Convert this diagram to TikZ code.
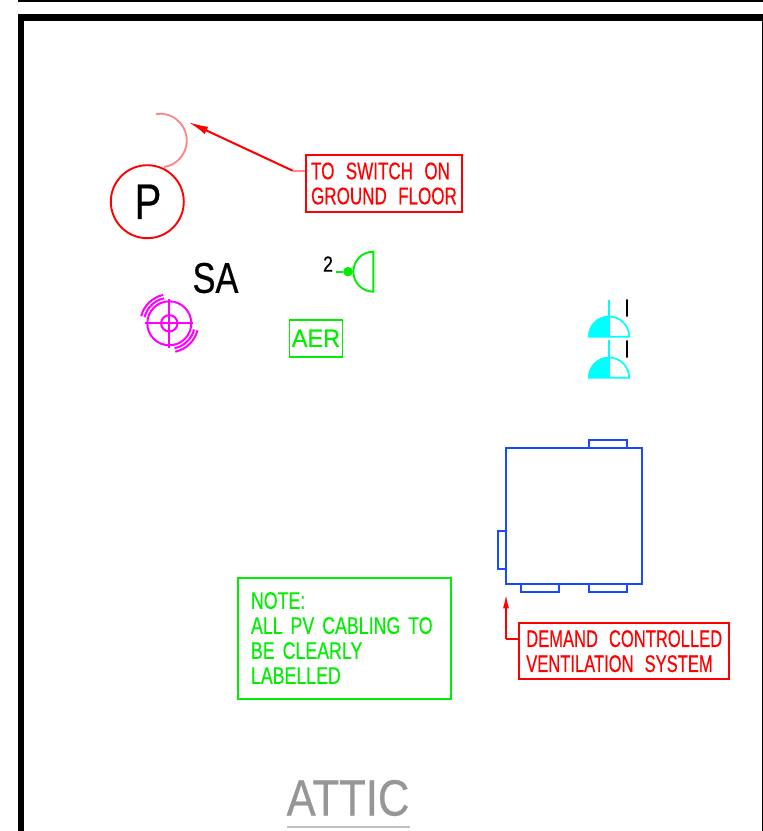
\documentclass[tikz,border=0pt]{standalone}
\usepackage{fontspec}
\setmainfont{Liberation Sans}
\newfontfamily\cad[FakeStretch=0.71,WordSpace=2.4,FakeBold=0.4]{Liberation Sans}
\newfontfamily\cadvent[FakeStretch=0.69,WordSpace=2.4,FakeBold=0.4]{Liberation Sans}
\newfontfamily\cadnote[FakeStretch=0.74,WordSpace=2.6,FakeBold=0.4]{Liberation Sans}
\newfontfamily\cadsym[FakeStretch=0.8,FakeBold=0.5]{Liberation Sans}
\newfontfamily\cadaer[FakeStretch=0.94,FakeBold=0.4]{Liberation Sans}
\newfontfamily\cadtitle[FakeStretch=0.855,FakeBold=0.5]{Liberation Sans}
\newcommand{\cadsize}[1]{\cad\fontsize{#1}{25}\selectfont}
\newcommand{\symsize}[1]{\cadsym\fontsize{#1}{25}\selectfont}
\definecolor{cadred}{RGB}{255,0,0}
\definecolor{palered}{RGB}{255,135,135}
\definecolor{cadgreen}{RGB}{0,238,0}
\definecolor{cadblue}{RGB}{25,75,250}
\definecolor{cadmag}{RGB}{255,0,255}
\definecolor{cadcyan}{RGB}{0,255,255}
\definecolor{attic}{RGB}{150,150,150}
\usetikzlibrary{arrows.meta}
\tikzset{
  noteline/.style={font=\cadsize{24}, align=left, inner sep=0pt, draw, line width=2pt},
  redlabel/.style={noteline, draw=cadred, text=cadred},
  redlead/.style={draw=cadred, line width=2pt, -{Latex[length=20pt,width=8pt]}},
  plain/.style={inner sep=0pt, text=black},
  duct/.style={draw=cadblue, line width=1.7pt},
  mag/.style={draw=cadmag, line width=2pt},
  lamp/.style={draw=cadcyan, line width=1.7pt},
  greenline/.style={draw=cadgreen, line width=1.9pt},
}
\begin{document}
\begin{tikzpicture}[x=1pt,y=-1pt]
\useasboundingbox (0,0) rectangle (763,831);
% frame
\fill[black] (18,0) rectangle (763,2);
\fill[black] (18,14) rectangle (763,21);
\fill[black] (18,14) rectangle (24,831);
\fill[black] (761.5,21) rectangle (763,831);
% pull switch
\node[circle, draw=cadred, line width=1.9pt, minimum size=73pt, inner sep=0pt] (p) at (147.3,201.7) {};
\node[plain, font=\symsize{50}] (ptext) at (148,201.7) {P};
\draw[palered, line width=1.9pt] (156,114) arc[start angle=98.6, end angle=-81.4, radius=26.8pt];
\node[redlabel, minimum width=156pt, minimum height=57pt] (sw) at (384,183.5) {TO SWITCH ON\\GROUND FLOOR};
\coordinate (swtip) at (188.3,122);
\coordinate (swbend) at (292.7,170.7);
\draw[redlead] (swbend) -- (swtip);
\draw[palered, line width=2pt] (sw.west |- swbend) -- (swbend);
% SA
\node[plain, font=\symsize{43}] (sa) at (215.5,278) {SA};
% green lamp
\node[plain, font=\symsize{22}] (two) at (328,264) {2};
\node[circle, fill=cadgreen, inner sep=0pt, minimum size=9.5pt] (gdot) at (348,271.7) {};
\coordinate (glead) at (336,271.7);
\draw[greenline] (glead) -- (gdot);
\draw[greenline] (373.3,251.7) arc[start angle=90, end angle=270, radius=20pt] -- cycle;
% magenta detector
\coordinate (det) at (169.3,323.3);
\draw[mag] (det) circle[radius=22pt];
\draw[mag] (det) circle[radius=8.2pt];
\draw[mag] ([xshift=-24pt]det) -- ([xshift=24pt]det);
\draw[mag] ([yshift=-24.5pt]det) -- ([yshift=24.5pt]det);
\foreach \r in {25.5,29}{
  \draw[mag] (det) ++(102:\r pt) arc[start angle=102, end angle=166, radius=\r pt];
  \draw[mag] (det) ++(282:\r pt) arc[start angle=282, end angle=346, radius=\r pt];
}
% AER
\node[draw=cadgreen, line width=1.9pt, text=cadgreen, inner sep=0pt, minimum width=53pt, minimum height=36.5pt, font={\cadaer\fontsize{25}{25}\selectfont}] (aer) at (316,338.3) {AER};
% cyan lamps
\foreach \b/\t [count=\i] in {336.7/300, 377.7/340}{
  \fill[cadcyan] (609,\b) -- (588.8,\b) arc[start angle=180, end angle=90, radius=20.2pt] -- cycle;
  \draw[lamp] (588.8,\b) arc[start angle=180, end angle=0, radius=20.2pt] -- cycle;
  \draw[lamp] (609,\t) -- (609,\b);
}
\node[plain, font=\symsize{24}] (i1) at (627,308) {I};
\node[plain, font=\symsize{24}] (i2) at (627,349) {I};
% ventilation unit
\draw[duct] (589,447.7) |- (626.7,440.3) -- (626.7,447.7);
\draw[duct] (521,584) |- (559,591.7) -- (559,584);
\draw[duct] (589,584) |- (626.7,591.7) -- (626.7,584);
\draw[duct] (505.7,531) -| (498.3,568.7) -- (505.7,568.7);
\node[draw=cadblue, line width=2.1pt, minimum width=136.3pt, minimum height=136.3pt, inner sep=0pt] (unit) at (573.85,515.85) {};
\node[redlabel, minimum width=209.7pt, minimum height=55.7pt, font={\cadvent\fontsize{24}{25}\selectfont}] (dcv) at (624.2,651.2) {DEMAND CONTROLLED\\VENTILATION SYSTEM};
\coordinate (dcvtip) at (506,593.3);
\coordinate (dcvbend) at (506,639);
\draw[cadred, line width=2pt] (dcv.west |- dcvbend) -- (dcvbend);
\draw[cadred, line width=2pt, -{Latex[length=15pt,width=6pt]}] (dcvbend) -- (dcvtip);
% note
\node[noteline, draw=cadgreen, text=cadgreen, minimum width=213pt, minimum height=121pt, text width=187pt, font={\cadnote\fontsize{24}{25}\selectfont}] (note) at (344.5,638) {NOTE:\\ALL PV CABLING TO\\BE CLEARLY\\LABELLED};
% title
\node[plain, text=attic, font={\cadtitle\fontsize{51}{51}\selectfont}] (title) at (348,798) {ATTIC};
\draw[attic!60, line width=2pt] (287,827.3) -- (410,827.3);
\end{tikzpicture}
\end{document}
